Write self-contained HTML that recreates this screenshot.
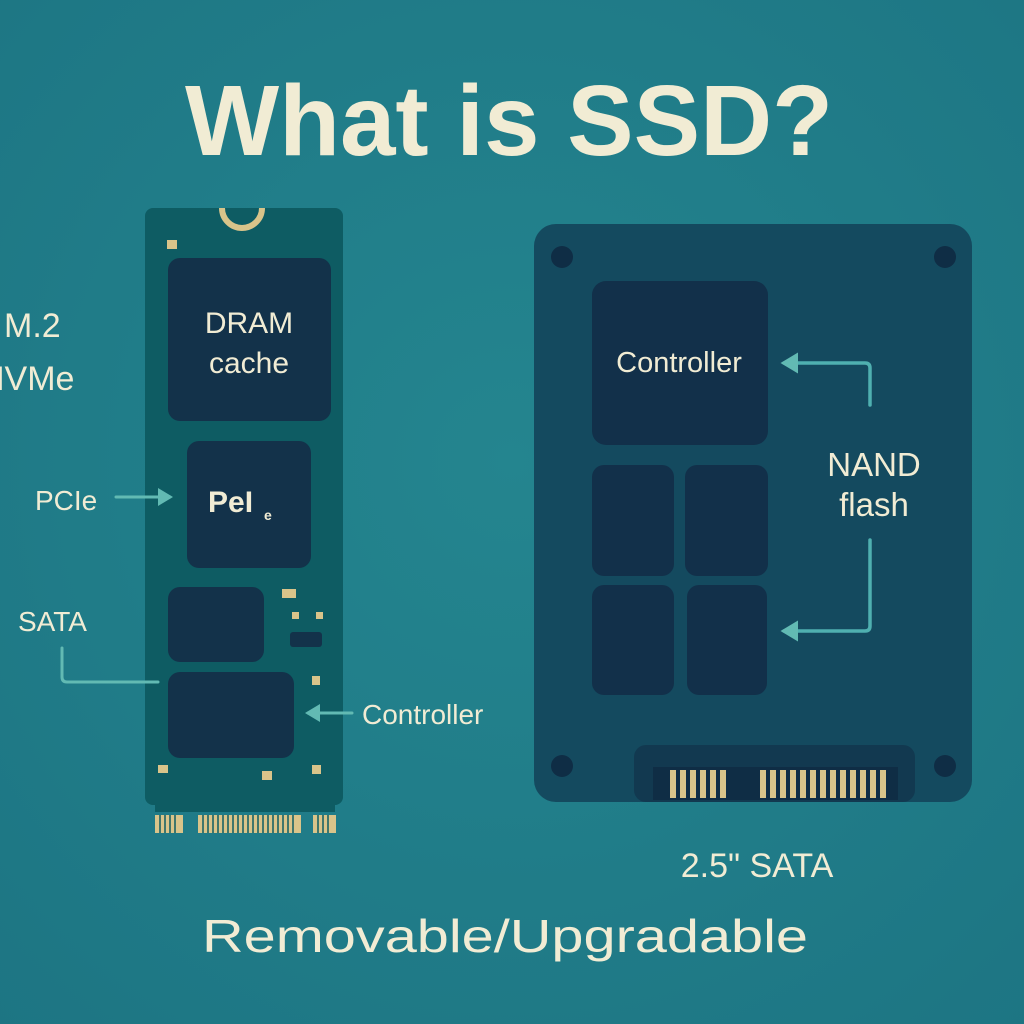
<!DOCTYPE html>
<html><head><meta charset="utf-8"><style>
html,body{margin:0;padding:0;width:1024px;height:1024px;overflow:hidden;background:#217f8b}
text{font-family:"Liberation Sans","DejaVu Sans",sans-serif;fill:#f1ecd4}
</style></head><body>
<svg width="1024" height="1024" viewBox="0 0 1024 1024" xmlns="http://www.w3.org/2000/svg">
<defs>
<radialGradient id="bg" cx="50%" cy="45%" r="75%">
<stop offset="0" stop-color="#24858f"/><stop offset="1" stop-color="#1d7583"/>
</radialGradient>
<marker id="ah" markerWidth="6" markerHeight="6" refX="4" refY="3" orient="auto" markerUnits="strokeWidth">
<path d="M0,0 L5,3 L0,6 Z" fill="#62bab3"/>
</marker>
</defs>
<rect width="1024" height="1024" fill="url(#bg)"/>
<text x="509" y="155" font-size="100" font-weight="bold" text-anchor="middle" textLength="648" lengthAdjust="spacingAndGlyphs">What is SSD?</text>

<!-- M.2 board -->
<rect x="145" y="208" width="198" height="597" rx="8" fill="#0e5c63"/>
<rect x="155" y="800" width="180" height="12" fill="#0e5c63"/>
<path d="M222,208 A20,20 0 0 0 262,208" fill="none" stroke="#d9c48a" stroke-width="6"/>
<g fill="#d9c48a">
<rect x="167" y="240" width="10" height="9"/>
<rect x="282" y="589" width="14" height="9"/>
<rect x="292" y="612" width="7" height="7"/><rect x="316" y="612" width="7" height="7"/>
<rect x="312" y="676" width="8" height="9"/>
<rect x="158" y="765" width="10" height="8"/><rect x="262" y="771" width="10" height="9"/><rect x="312" y="765" width="9" height="9"/>
</g>
<rect x="290" y="632" width="32" height="15" rx="3" fill="#13324a"/>
<g fill="#13324a">
<rect x="168" y="258" width="163" height="163" rx="12"/>
<rect x="187" y="441" width="124" height="127" rx="12"/>
<rect x="168" y="587" width="96" height="75" rx="12"/>
<rect x="168" y="672" width="126" height="86" rx="12"/>
</g>
<g fill="#d9c48a">
<rect x="155" y="815" width="28" height="18"/>
<rect x="198" y="815" width="103" height="18"/>
<rect x="313" y="815" width="23" height="18"/>
</g>
<g stroke="#0e5c63" stroke-width="1.5">
<path d="M160,815v18M165,815v18M170,815v18M175,815v18M203,815v18M208,815v18M213,815v18M218,815v18M223,815v18M228,815v18M233,815v18M238,815v18M243,815v18M248,815v18M253,815v18M258,815v18M263,815v18M268,815v18M273,815v18M278,815v18M283,815v18M288,815v18M293,815v18M318,815v18M323,815v18M328,815v18"/>
</g>
<text x="249" y="333" font-size="30" text-anchor="middle">DRAM</text>
<text x="249" y="373" font-size="30" text-anchor="middle">cache</text>
<text x="208" y="512" font-size="30" font-weight="bold">PeI</text><text x="264" y="520" font-size="14" font-weight="bold">e</text>

<text x="4" y="337" font-size="34">M.2</text>
<text x="-20" y="390" font-size="34">NVMe</text>
<text x="35" y="510" font-size="28">PCIe</text>
<text x="18" y="631" font-size="28">SATA</text>
<text x="362" y="724" font-size="28">Controller</text>
<g fill="none" stroke="#62bab3" stroke-width="3" stroke-linecap="round">
<line x1="116" y1="497" x2="170" y2="497" marker-end="url(#ah)"/>
<path d="M62,648 V677 Q62,682 67,682 H158"/>
<line x1="352" y1="713" x2="308" y2="713" marker-end="url(#ah)"/>
</g>

<!-- 2.5 SSD -->
<rect x="534" y="224" width="438" height="578" rx="22" fill="#144a5f"/>
<g fill="#0f2d45">
<circle cx="562" cy="257" r="11"/><circle cx="945" cy="257" r="11"/>
<circle cx="562" cy="766" r="11"/><circle cx="945" cy="766" r="11"/>
</g>
<g fill="#12304a">
<rect x="592" y="281" width="176" height="164" rx="14"/>
<rect x="592" y="465" width="82" height="111" rx="12"/>
<rect x="685" y="465" width="83" height="111" rx="12"/>
<rect x="592" y="585" width="82" height="110" rx="12"/>
<rect x="687" y="585" width="80" height="110" rx="12"/>
</g>
<rect x="634" y="745" width="281" height="57" rx="12" fill="#123950"/>
<rect x="653" y="767" width="245" height="33" fill="#0f2d45"/>
<g fill="#d9c48a">
<rect x="670" y="770" width="6" height="28"/><rect x="680" y="770" width="6" height="28"/><rect x="690" y="770" width="6" height="28"/><rect x="700" y="770" width="6" height="28"/><rect x="710" y="770" width="6" height="28"/><rect x="720" y="770" width="6" height="28"/>
<rect x="760" y="770" width="6" height="28"/><rect x="770" y="770" width="6" height="28"/><rect x="780" y="770" width="6" height="28"/><rect x="790" y="770" width="6" height="28"/><rect x="800" y="770" width="6" height="28"/><rect x="810" y="770" width="6" height="28"/><rect x="820" y="770" width="6" height="28"/><rect x="830" y="770" width="6" height="28"/><rect x="840" y="770" width="6" height="28"/><rect x="850" y="770" width="6" height="28"/><rect x="860" y="770" width="6" height="28"/><rect x="870" y="770" width="6" height="28"/><rect x="880" y="770" width="6" height="28"/>
</g>
<text x="679" y="372" font-size="29" text-anchor="middle">Controller</text>
<text x="874" y="476" font-size="33" text-anchor="middle">NAND</text>
<text x="874" y="516" font-size="33" text-anchor="middle">flash</text>
<g fill="none" stroke="#4fb0b0" stroke-width="3.5" stroke-linecap="round">
<path d="M870,405 V368 Q870,363 865,363 H784" marker-end="url(#ah)"/>
<path d="M870,540 V626 Q870,631 865,631 H784" marker-end="url(#ah)"/>
</g>
<text x="757" y="877" font-size="34" text-anchor="middle">2.5" SATA</text>
<text x="505" y="952" font-size="46" text-anchor="middle" textLength="606" lengthAdjust="spacingAndGlyphs">Removable/Upgradable</text>
</svg>
</body></html>
